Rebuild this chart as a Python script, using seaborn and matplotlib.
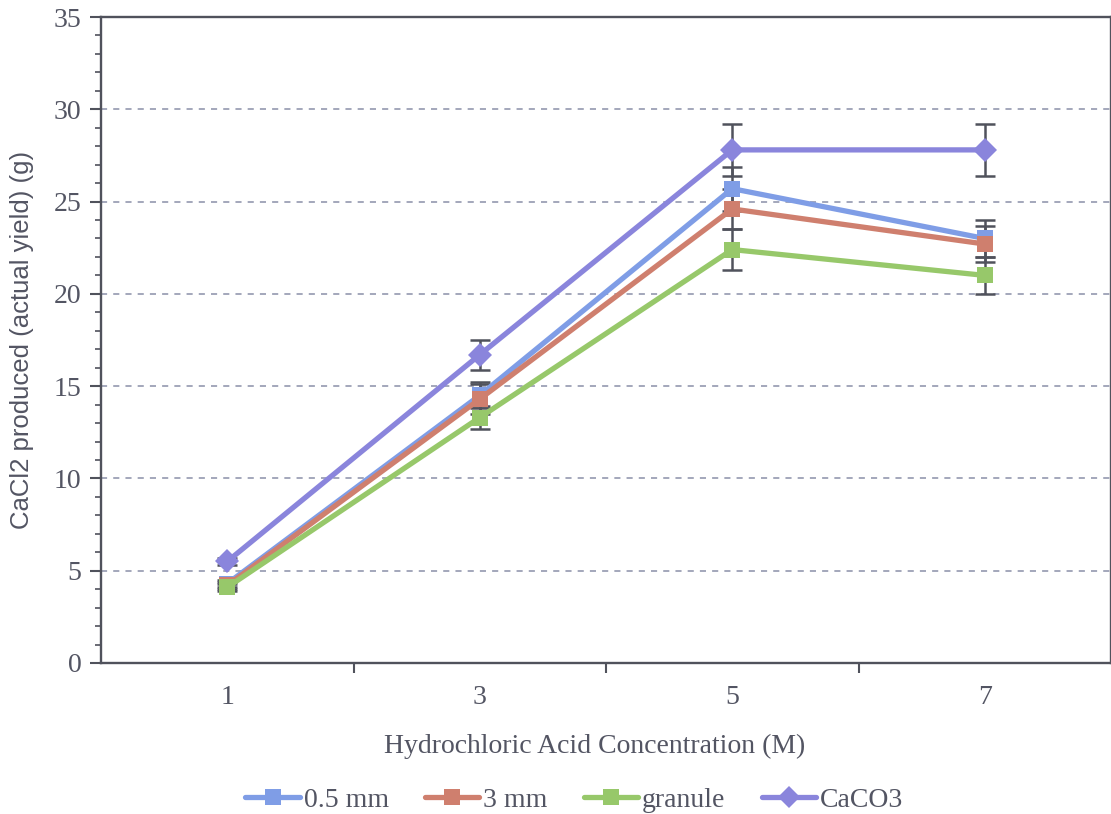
import numpy as np
import pandas as pd
import matplotlib
matplotlib.use("Agg")
import matplotlib.pyplot as plt
import seaborn as sns
from matplotlib.lines import Line2D

categories = ["1", "3", "5", "7"]
series_names = ["0.5 mm", "3 mm", "granule", "CaCO3"]
vals_05 = [4.3, 14.5, 25.7, 23.0]
vals_3 = [4.2, 14.3, 24.6, 22.7]
vals_gran = [4.1, 13.3, 22.4, 21.0]
vals_caco3 = [5.5, 16.7, 27.8, 27.8]
err_05 = [0.2, 0.7, 1.2, 1.0]
err_3 = [0.2, 0.8, 1.1, 1.0]
err_gran = [0.2, 0.6, 1.1, 1.0]
err_caco3 = [0.2, 0.8, 1.4, 1.4]

colors = ["#7f9de6", "#cf7f6e", "#97c86a", "#8a85dc"]
markers = ["s", "s", "s", "D"]

all_vals = [vals_05, vals_3, vals_gran, vals_caco3]
all_errs = [err_05, err_3, err_gran, err_caco3]

rows = []
for name, vals, errs in zip(series_names, all_vals, all_errs):
    for i, (c, v, e) in enumerate(zip(categories, vals, errs)):
        rows.append({"pos": i, "conc": c, "series": name, "value": v, "err": e})
df = pd.DataFrame(rows)

sns.set_style("white")
plt.rcParams["font.family"] = ["Liberation Serif", "DejaVu Serif"]

text_color = "#535563"
axis_color = "#50525c"
fig = plt.figure(figsize=(11.11, 8.14), dpi=100)
ax = fig.add_axes([101 / 1111, 1 - 663 / 814, 1010 / 1111, (663 - 17) / 814])

for name in series_names:
    sub = df[df["series"] == name]
    ax.errorbar(sub["pos"], sub["value"], yerr=sub["err"], fmt="none",
                ecolor=axis_color, elinewidth=1.8, capsize=7, capthick=1.8, zorder=2)

sns.lineplot(data=df, x="pos", y="value", hue="series", style="series",
             palette=dict(zip(series_names, colors)),
             markers=dict(zip(series_names, markers)), dashes=False,
             linewidth=3.8, markersize=12, markeredgewidth=0, ax=ax, zorder=3,
             legend=False)

ax.set_xlim(-0.5, 3.5)
ax.set_ylim(0, 35)

for y in range(5, 35, 5):
    ax.axhline(y, color="#8a90a8", linestyle=(0, (4, 4)), linewidth=1.1, zorder=0)

ax.set_yticks(np.arange(0, 36, 5))
ax.set_yticks(np.arange(0, 36, 1), minor=True)
ax.set_xticks(range(4))
ax.set_xticklabels(categories)
ax.set_xticks([0.5, 1.5, 2.5], minor=True)

ax.tick_params(axis="y", which="major", direction="out", length=8, width=1.5,
               color=axis_color, labelsize=20, labelcolor=text_color, pad=6, left=True)
ax.tick_params(axis="y", which="minor", direction="out", length=4, width=1.2,
               color=axis_color, left=True)
ax.tick_params(axis="x", which="major", length=0, labelsize=20,
               labelcolor=text_color, pad=16)
ax.tick_params(axis="x", which="minor", direction="out", length=7, width=1.5,
               color=axis_color, bottom=True)

for side in ["left", "bottom", "top", "right"]:
    ax.spines[side].set_color(axis_color)
    ax.spines[side].set_linewidth(1.7)

ax.set_xlabel("Hydrochloric Acid Concentration (M)", fontsize=20, color=text_color)
ax.xaxis.set_label_coords(0.489, -0.109)
ax.set_ylabel("CaCl2 produced (actual yield) (g)", fontsize=18.5, color=text_color,
              family=["Liberation Sans", "DejaVu Sans"], labelpad=14)

handles = []
for name, col, m in zip(series_names, colors, markers):
    handles.append(Line2D([0], [0], color=col, marker=m, linewidth=3.8,
                          markersize=12 if m == "s" else 11, markeredgewidth=0))
leg = fig.legend(handles, series_names, loc="center", bbox_to_anchor=(0.517, 1 - 800 / 814),
                 ncol=4, frameon=False, fontsize=20, handlelength=1.95,
                 columnspacing=1.3, handletextpad=0.15)
for t in leg.get_texts():
    t.set_color(text_color)

fig.savefig("out.png", dpi=100, facecolor="white")
